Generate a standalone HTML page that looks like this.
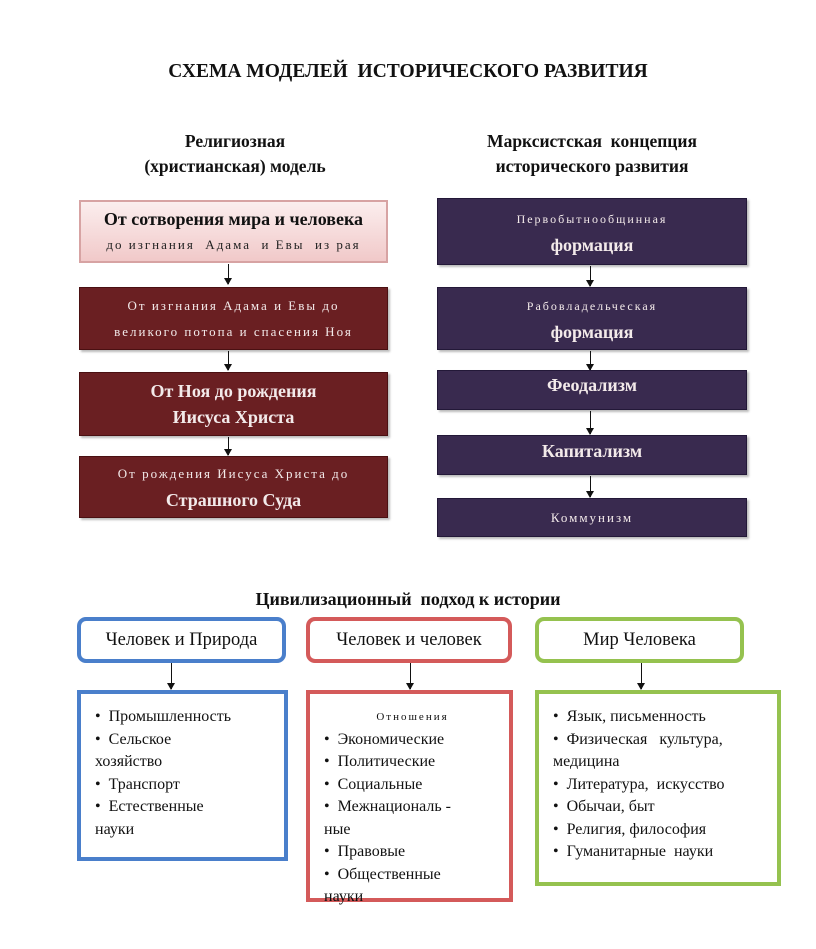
<!DOCTYPE html>
<html><head><meta charset="utf-8"><style>
body{margin:0;width:816px;height:949px;background:#fff;position:relative;overflow:hidden;font-family:"Liberation Serif","DejaVu Serif",serif;color:#111}
.a{position:absolute}
.t{text-align:center;font-weight:bold}
.box{position:absolute;box-sizing:border-box;display:flex;flex-direction:column;justify-content:center;align-items:center;text-align:center;color:#f3eaea;line-height:26px}
.m{background:#6a1f22;border:1px solid #4a1012;box-shadow:2px 2px 2px #bbb}
.p{background:#392a4f;border:1px solid #231838;box-shadow:2px 2px 2px #bbb}
.sm{font-size:13px;letter-spacing:2px}
.bg{font-size:18px;font-weight:bold}
.ar{position:absolute;width:1px;background:#111}
.ar:after{content:"";position:absolute;left:-4px;bottom:-1px;border-left:4.5px solid transparent;border-right:4.5px solid transparent;border-top:7px solid #111}
.hb{position:absolute;box-sizing:border-box;border-radius:9px;background:#fff;display:flex;align-items:center;justify-content:center;font-size:18.5px}
.lb{position:absolute;box-sizing:border-box;background:#fff;font-size:16px;line-height:22.5px;padding:12px 8px 0 14px;white-space:nowrap}
</style></head><body>
<div class="a t" style="left:0;width:816px;top:61px;font-size:19.5px">СХЕМА МОДЕЛЕЙ&nbsp; ИСТОРИЧЕСКОГО РАЗВИТИЯ</div>
<div class="a t" style="left:60px;width:350px;top:129px;font-size:17.5px;line-height:25px">Религиозная<br>(христианская) модель</div>
<div class="a t" style="left:417px;width:350px;top:129px;font-size:17.5px;line-height:25px">Марксистская&nbsp; концепция<br>исторического развития</div>

<div class="box" style="left:79px;top:200px;width:309px;height:63px;background:linear-gradient(#fbeeee,#f1c9c9);border:2px solid #d7a3a3;color:#222"><div class="bg" style="color:#111">От сотворения мира и человека</div><div class="sm" style="color:#222">до изгнания&nbsp; Адама&nbsp; и Евы&nbsp; из рая</div></div>
<div class="ar" style="left:228px;top:264px;height:20px"></div>
<div class="box m" style="left:79px;top:287px;width:309px;height:63px"><div class="sm">От изгнания Адама и Евы до</div><div class="sm">великого потопа и спасения Ноя</div></div>
<div class="ar" style="left:228px;top:351px;height:19px"></div>
<div class="box m" style="left:79px;top:372px;width:309px;height:64px"><div class="bg">От Ноя до рождения</div><div class="bg">Иисуса Христа</div></div>
<div class="ar" style="left:228px;top:437px;height:18px"></div>
<div class="box m" style="left:79px;top:456px;width:309px;height:62px"><div class="sm">От рождения Иисуса Христа до</div><div class="bg">Страшного Суда</div></div>

<div class="box p" style="left:437px;top:198px;width:310px;height:67px"><div class="sm" style="font-size:12px">Первобытнообщинная</div><div class="bg">формация</div></div>
<div class="ar" style="left:590px;top:266px;height:20px"></div>
<div class="box p" style="left:437px;top:287px;width:310px;height:63px"><div class="sm" style="font-size:12px">Рабовладельческая</div><div class="bg">формация</div></div>
<div class="ar" style="left:590px;top:351px;height:19px"></div>
<div class="box p" style="left:437px;top:370px;width:310px;height:40px;justify-content:flex-start;padding-top:1px"><div class="bg">Феодализм</div></div>
<div class="ar" style="left:590px;top:411px;height:23px"></div>
<div class="box p" style="left:437px;top:435px;width:310px;height:40px;justify-content:flex-start;padding-top:2px"><div class="bg">Капитализм</div></div>
<div class="ar" style="left:590px;top:476px;height:21px"></div>
<div class="box p" style="left:437px;top:498px;width:310px;height:39px"><div class="sm">Коммунизм</div></div>

<div class="a t" style="left:0;width:816px;top:589px;font-size:18px">Цивилизационный&nbsp; подход к истории</div>

<div class="hb" style="left:77px;top:617px;width:209px;height:46px;border:4px solid #4a7fcb">Человек и Природа</div>
<div class="hb" style="left:306px;top:617px;width:206px;height:46px;border:4px solid #d45a5a">Человек и человек</div>
<div class="hb" style="left:535px;top:617px;width:209px;height:46px;border:4px solid #95c24f">Мир Человека</div>
<div class="ar" style="left:171px;top:663px;height:26px"></div>
<div class="ar" style="left:410px;top:663px;height:26px"></div>
<div class="ar" style="left:641px;top:663px;height:26px"></div>

<div class="lb" style="left:77px;top:690px;width:211px;height:171px;border:4px solid #4a7fcb"><div>•&nbsp; Промышленность</div><div>•&nbsp; Сельское<br>хозяйство</div><div>•&nbsp; Транспорт</div><div>•&nbsp; Естественные<br>науки</div></div>
<div class="lb" style="left:306px;top:690px;width:207px;height:212px;border:4px solid #d45a5a"><div style="text-align:center;font-size:11px;letter-spacing:2px">Отношения</div><div>•&nbsp; Экономические</div><div>•&nbsp; Политические</div><div>•&nbsp; Социальные</div><div>•&nbsp; Межнациональ -<br>ные</div><div>•&nbsp; Правовые</div><div>•&nbsp; Общественные<br>науки</div></div>
<div class="lb" style="left:535px;top:690px;width:246px;height:196px;border:4px solid #95c24f"><div>•&nbsp; Язык, письменность</div><div>•&nbsp; Физическая&nbsp;&nbsp; культура,<br>медицина</div><div>•&nbsp; Литература,&nbsp; искусство</div><div>•&nbsp; Обычаи, быт</div><div>•&nbsp; Религия, философия</div><div>•&nbsp; Гуманитарные&nbsp; науки</div></div>
</body></html>
